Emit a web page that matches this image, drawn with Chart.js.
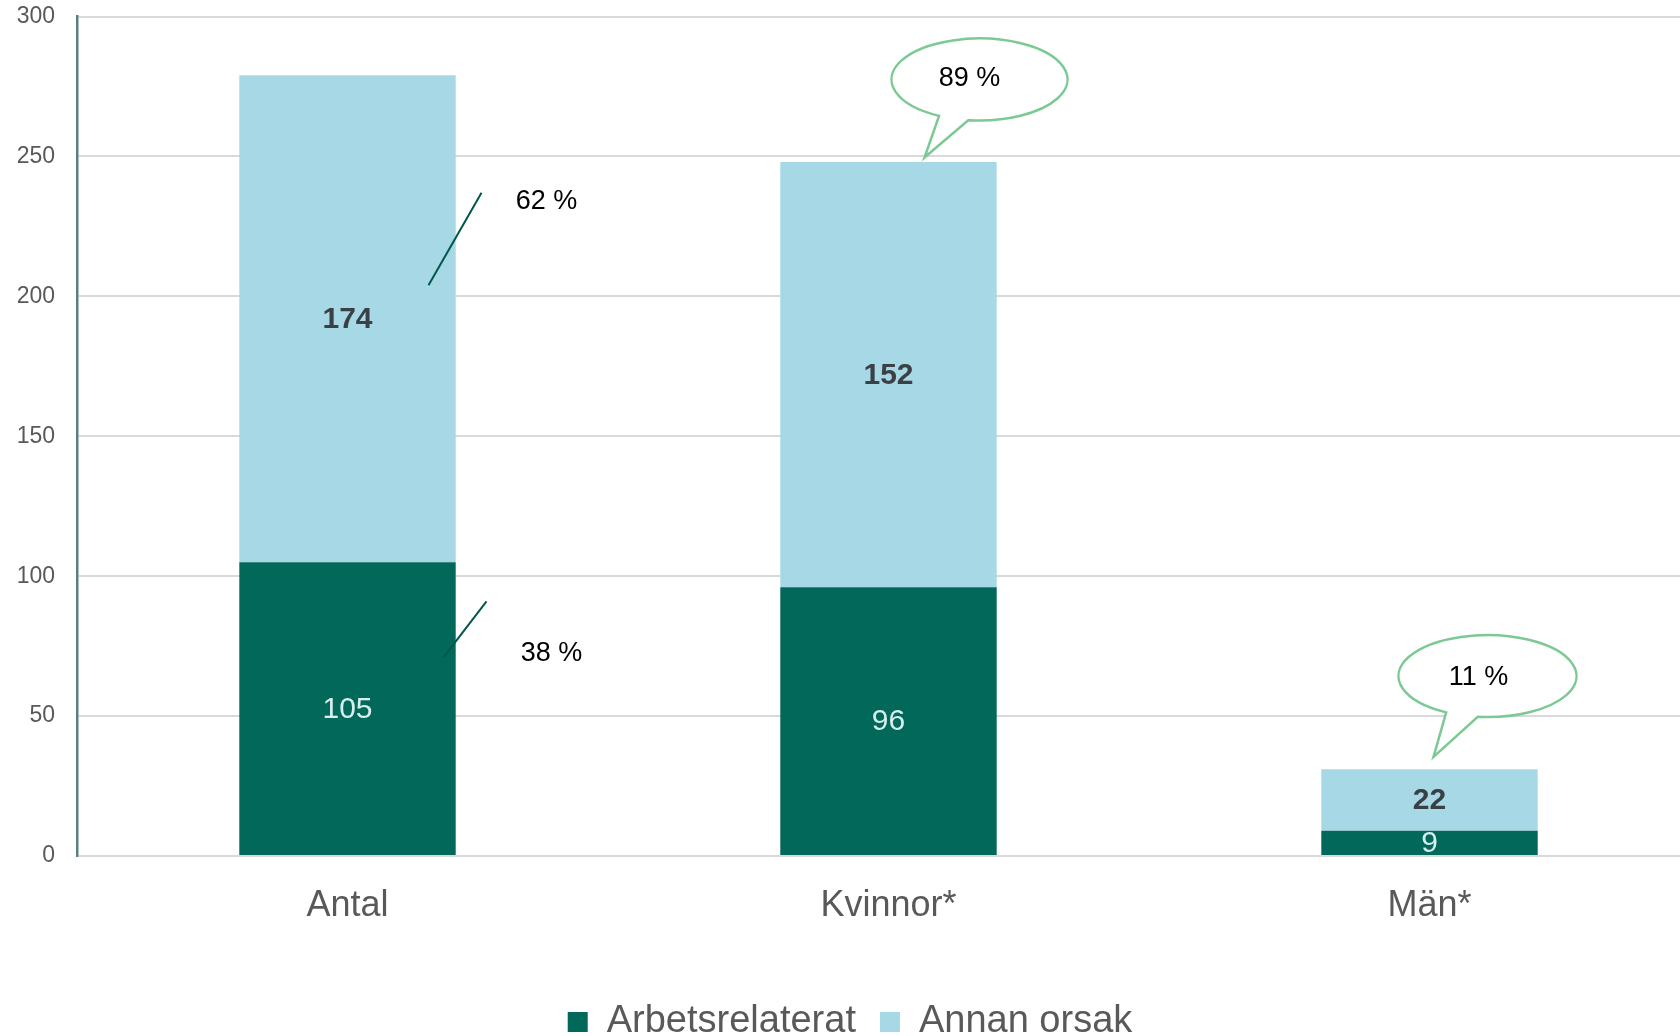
<!DOCTYPE html>
<html>
<head>
<meta charset="utf-8">
<script src="https://cdn.jsdelivr.net/npm/chart.js@4.4.1/dist/chart.umd.min.js"></script>
<style>
  html, body { margin: 0; padding: 0; background: #fff; overflow: hidden; }
  #wrap { width: 1700px; height: 1036px; }
</style>
</head>
<body>
<div id="wrap"><canvas id="chart" width="1700" height="1036"></canvas></div>
<script>
const categories = ['Antal', 'Kvinnor*', 'Män*'];
const workRelated = [105, 96, 9];
const otherCause = [174, 152, 22];
const yTicks = [0, 50, 100, 150, 200, 250, 300];

const colors = {
  dark: '#02685a',
  light: '#a6d9e5',
  grid: '#d9d9d9',
  axis: '#5b8080',
  text: '#595959',
  bubble: '#7dc994',
};
const font = '"Liberation Sans", Arial, sans-serif';

// callouts: category index + pixel offset, y given as chart value
const slashNotes = [
  { cat: 0, x1: 81, v1: 204, x2: 134, v2: 237, text: '62 %', tx: 199, tv: 234 },
  { cat: 0, x1: 96, v1: 71, x2: 139, v2: 91, text: '38 %', tx: 204, tv: 72.5 },
];
const bubbles = [
  { cat: 1, cx: 91, cv: 277.5, rx: 88, ry: 41, b1: [50, 264.3], tip: [36, 249.6], b2: [80, 262.9], text: '89 %', tx: 81, tv: 277.9 },
  { cat: 2, cx: 58, cv: 64.3, rx: 89, ry: 41, b1: [16, 51.1], tip: [4, 35.4], b2: [48, 49.3], text: '11 %', tx: 49, tv: 63.9 },
];

const valueLabels = {
  id: 'valueLabels',
  afterDatasetsDraw(chart) {
    const ctx = chart.ctx;
    ctx.save();
    ctx.textAlign = 'center';
    ctx.textBaseline = 'middle';
    chart.data.datasets.forEach((ds, di) => {
      chart.getDatasetMeta(di).data.forEach((bar, i) => {
        const y = (bar.y + bar.base) / 2;
        if (di === 0) {
          ctx.font = '30px ' + font;
          ctx.fillStyle = '#d6eeee';
        } else {
          ctx.font = 'bold 30px ' + font;
          ctx.fillStyle = '#3a4046';
        }
        ctx.fillText(String(ds.data[i]), bar.x, y + 1);
      });
    });
    ctx.restore();
  },
};

const callouts = {
  id: 'callouts',
  afterDraw(chart) {
    const ctx = chart.ctx;
    const xs = chart.scales.x;
    const ys = chart.scales.y;
    ctx.save();
    ctx.font = '27px ' + font;
    ctx.textAlign = 'center';
    ctx.textBaseline = 'middle';

    slashNotes.forEach((n) => {
      const c = xs.getPixelForValue(n.cat);
      ctx.strokeStyle = '#00574a';
      ctx.lineWidth = 2;
      ctx.beginPath();
      ctx.moveTo(c + n.x1, ys.getPixelForValue(n.v1));
      ctx.lineTo(c + n.x2, ys.getPixelForValue(n.v2));
      ctx.stroke();
      ctx.fillStyle = '#000';
      ctx.fillText(n.text, c + n.tx, ys.getPixelForValue(n.tv));
    });

    bubbles.forEach((b) => {
      const c = xs.getPixelForValue(b.cat);
      const cx = c + b.cx;
      const cy = ys.getPixelForValue(b.cv);
      const ang = (p) => Math.atan2((ys.getPixelForValue(p[1]) - cy) / b.ry, (c + p[0] - cx) / b.rx);
      const a1 = ang(b.b1);
      const a2 = ang(b.b2);
      ctx.beginPath();
      ctx.ellipse(cx, cy, b.rx, b.ry, 0, a1, a2 + Math.PI * 2, false);
      ctx.lineTo(c + b.tip[0], ys.getPixelForValue(b.tip[1]));
      ctx.closePath();
      ctx.fillStyle = '#fff';
      ctx.fill();
      ctx.strokeStyle = colors.bubble;
      ctx.lineWidth = 2.5;
      ctx.stroke();
      ctx.fillStyle = '#000';
      ctx.fillText(b.text, c + b.tx, ys.getPixelForValue(b.tv));
    });
    ctx.restore();
  },
};

new Chart(document.getElementById('chart'), {
  type: 'bar',
  data: {
    labels: categories,
    datasets: [
      {
        label: 'Arbetsrelaterat',
        data: workRelated,
        backgroundColor: colors.dark,
        barPercentage: 0.4,
        categoryPercentage: 1,
      },
      {
        label: 'Annan orsak',
        data: otherCause,
        backgroundColor: colors.light,
        barPercentage: 0.4,
        categoryPercentage: 1,
      },
    ],
  },
  options: {
    responsive: false,
    animation: false,
    layout: { padding: { top: 16.5, left: 0, right: 0, bottom: -15 } },
    scales: {
      x: {
        stacked: true,
        grid: { display: false },
        border: { display: false },
        ticks: {
          color: colors.text,
          padding: 20,
          font: { family: font, size: 36 },
        },
        afterFit(scale) { scale.height = 123; },
      },
      y: {
        stacked: true,
        min: 0,
        max: 300,
        afterBuildTicks(scale) { scale.ticks = yTicks.map((v) => ({ value: v })); },
        grid: { color: colors.grid, lineWidth: 2, drawTicks: false },
        border: { color: colors.axis, width: 2.5 },
        ticks: {
          color: colors.text,
          padding: 22,
          font: { family: font, size: 23 },
        },
        afterFit(scale) {
          scale.width = 77;
          scale.paddingTop = 0;
        },
      },
    },
    plugins: {
      legend: {
        position: 'bottom',
        labels: {
          color: colors.text,
          boxWidth: 20,
          boxHeight: 20,
          padding: 24,
          font: { family: font, size: 38 },
        },
      },
      tooltip: { enabled: false },
    },
  },
  plugins: [valueLabels, callouts],
});
</script>
</body>
</html>
